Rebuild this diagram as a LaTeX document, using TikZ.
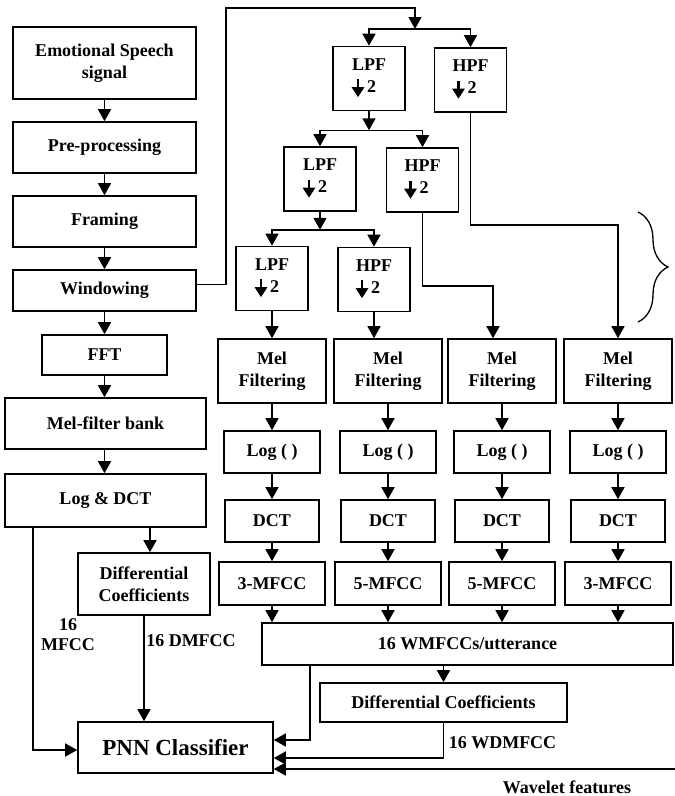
\documentclass[tikz,border=0pt]{standalone}
\usepackage{fontspec}
\setmainfont{Liberation Serif}
\usetikzlibrary{arrows.meta,decorations.pathreplacing}

% small down-arrow used inside the filter boxes
\newcommand{\dnarr}{\tikz[baseline=0pt]\draw[line width=2.6pt,-{Triangle[length=10pt,width=12pt]}] (0,13pt) -- (0,-5pt);}

\begin{document}
\begin{tikzpicture}[x=1pt,y=-1pt,
  blk/.style={draw,line width=1.6pt,align=center,inner sep=0pt,font=\fontsize{18}{22}\selectfont\bfseries},
  filt/.style={blk,minimum width=72pt,minimum height=64pt,align=left},
  lnk/.style={line width=1.6pt,-{Triangle[length=12pt,width=13pt]}},
  lbl/.style={align=center,font=\fontsize{18}{20}\selectfont\bfseries}]
\useasboundingbox (0,0) rectangle (675,796);

% MFCC branch
\node[blk,minimum width=183pt,minimum height=72pt] (ess) at (104.5,63) {Emotional Speech\\signal};
\node[blk,minimum width=183pt,minimum height=51pt] (pre) at (104.5,147.5) {Pre-processing};
\node[blk,minimum width=183pt,minimum height=51pt] (frm) at (104.5,221.5) {Framing};
\node[blk,minimum width=183pt,minimum height=41pt] (win) at (104.5,290.5) {Windowing};
\node[blk,minimum width=125pt,minimum height=40pt] (fft) at (104.5,355) {FFT};
\node[blk,minimum width=201pt,minimum height=51pt] (mfb) at (105.5,423.5) {Mel-filter bank};
\node[blk,minimum width=201pt,minimum height=53pt] (ldct) at (105.5,500.5) {Log \& DCT};
\node[blk,minimum width=132pt,minimum height=62pt] (dcl) at (144,584) {Differential\\Coefficients};
\node[blk,minimum width=195pt,minimum height=51pt,font=\fontsize{23}{26}\selectfont\bfseries] (pnn) at (175.5,747.5) {PNN Classifier};

\draw[lnk] (ess) -- (pre);
\draw[lnk] (pre) -- (frm);
\draw[lnk] (frm) -- (win);
\draw[lnk] (win) -- (fft);
\draw[lnk] (fft) -- (fft |- mfb.north);
\draw[lnk] (fft |- mfb.south) -- (fft |- ldct.north);
\draw[lnk] ([xshift=6pt]dcl.north |- ldct.south) -- ([xshift=6pt]dcl.north);
\draw[lnk] ([xshift=-72.5pt]ldct.south) |- ([yshift=-2.5pt]pnn.west);
\draw[lnk] (dcl) -- (dcl |- pnn.north);
\node[lbl] (l16) at (68,635) {16\\MFCC};
\node[lbl] (ldm) at (191,641) {16 DMFCC};

% wavelet tree
\node[filt] (lA) at (369,78.5) {LPF\\\dnarr\,2};
\node[filt] (hA) at (470.5,80) {HPF\\\dnarr\,2};
\node[filt] (lB) at (320,179) {LPF\\\dnarr\,2};
\node[filt] (hB) at (422.5,180) {HPF\\\dnarr\,2};
\node[filt] (lC) at (272,278.5) {LPF\\\dnarr\,2};
\node[filt] (hC) at (374,279.5) {HPF\\\dnarr\,2};

\coordinate (sp0) at (415,29);
\draw[lnk] ([yshift=6pt]win.east) -- ++(29,0) |- ([yshift=21pt]sp0) -- (sp0);
\draw[lnk] (sp0) -| (lA.north);
\draw[lnk] (sp0) -| (hA.north);
\draw[lnk] (lA.south) -- ++(0,19) coordinate (sp1);
\draw[lnk] (sp1) -| (lB.north);
\draw[lnk] (sp1) -| (hB.north);
\draw[lnk] (lB.south) -- ++(0,18) coordinate (sp2);
\draw[lnk] (sp2) -| (lC.north);
\draw[lnk] (sp2) -| (hC.north);

\foreach \i/\x/\m in {1/272/3,2/388/5,3/502/5,4/618/3} {
  \node[blk,minimum width=108pt,minimum height=64pt] (mel\i) at (\x,371) {Mel\\Filtering};
  \node[blk,minimum width=96pt,minimum height=42pt] (log\i) at (\x,452) {Log ( )};
  \node[blk,minimum width=94pt,minimum height=42pt] (dct\i) at (\x,521) {DCT};
  \node[blk,minimum width=106pt,minimum height=43pt] (mf\i) at (\x,583.5) {\m-MFCC};
  \draw[lnk] (mel\i) -- (log\i);
  \draw[lnk] (log\i) -- (dct\i);
  \draw[lnk] (dct\i) -- (mf\i);
}

\draw[lnk] (lC) -- (mel1);
\draw[lnk] (hC.south) -- (hC.south |- mel2.north);
\draw[lnk] (hB.south) -- ++(0,73) -| ([xshift=-9pt]mel3.north);
\draw[lnk] (hA.south) -- ++(0,112) -| (mel4.north);
\draw[line width=1.3pt,decorate,decoration={brace,amplitude=30pt}] (638,212) -- (638,322);

\node[blk,minimum width=411pt,minimum height=42pt] (wm) at (467.5,644) {16 WMFCCs/utterance};
\node[blk,minimum width=247pt,minimum height=39pt] (dcr) at (443.5,702.5) {Differential Coefficients};
\foreach \i in {1,...,4} \draw[lnk] (mf\i) -- (mf\i |- wm.north);

\draw[lnk] (wm.south -| dcr.north) -- (dcr.north);
\draw[lnk] ([xshift=-157.5pt]wm.south) |- ([yshift=7.5pt]pnn.east);
\draw[lnk] (dcr.south) |- ([yshift=-10.5pt]pnn.east);
\coordinate (wv) at (675,769);
\draw[lnk] (wv) -- (wv -| pnn.east);
\node[lbl] (wdm) at (502.5,743) {16 WDMFCC};
\node[lbl] (wvf) at (567,787) {Wavelet features};

\end{tikzpicture}
\end{document}
